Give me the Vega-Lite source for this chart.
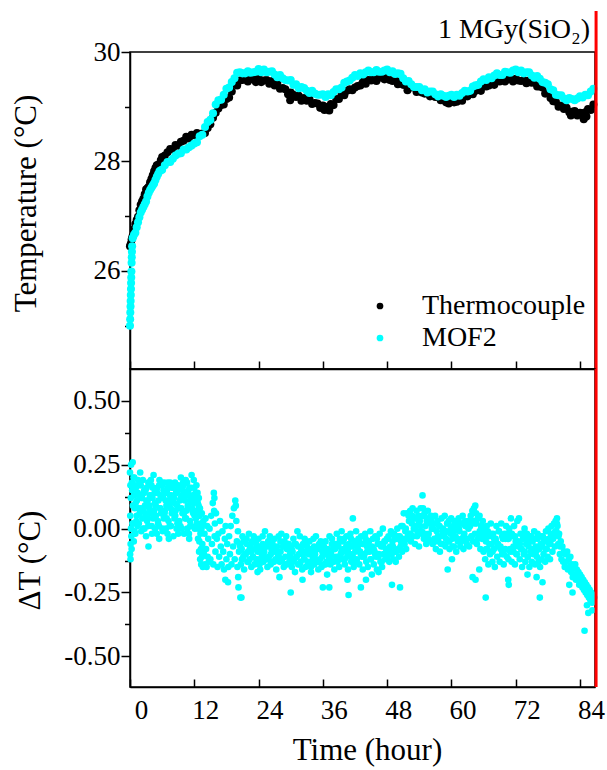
{
  "$schema": "https://vega.github.io/schema/vega-lite/v6.json",
  "padding": {"left": 9, "top": 8, "right": 5, "bottom": 5},
  "spacing": 0,
  "bounds": "flush",
  "config": {
    "font": "Liberation Serif",
    "view": {"stroke": "black", "strokeWidth": 1.5},
    "axis": {
      "grid": false, "domainColor": "black", "domainWidth": 1.5, "tickColor": "black", "tickWidth": 1.5,
      "labelColor": "black", "titleColor": "black", "labelFont": "Liberation Serif", "titleFont": "Liberation Serif",
      "labelFontSize": 27, "titleFontSize": 31, "titleFontWeight": "normal", "labelOverlap": false, "labelFlush": false
    }
  },
  "resolve": {"legend": {"color": "independent"}, "scale": {"color": "independent"}},
  "datasets": {
    "dose": [{"t": 87.0, "label": "1 MGy(SiO₂)"}],
    "temp": [
      {"t":0,"tc":26.45,"mof":25.0},{"t":0.03,"mof":25.12},{"t":0.06,"mof":25.24},{"t":0.1,"tc":26.48,"mof":25.35},{"t":0.12,"mof":25.45},{"t":0.15,"mof":25.56},{"t":0.18,"mof":25.67},{"t":0.2,"tc":26.5,"mof":25.78},{"t":0.23,"mof":25.88},{"t":0.26,"mof":25.99},{"t":0.3,"tc":26.57,"mof":26.15},{"t":0.33,"mof":26.25},{"t":0.36,"mof":26.35},{"t":0.4,"tc":26.6,"mof":26.45},{"t":0.5,"tc":26.64,"mof":26.6},
      {"t":0.75,"tc":26.76,"mof":26.66},{"t":1,"tc":26.86,"mof":26.7},{"t":1.25,"tc":26.93,"mof":26.8},{"t":1.5,"tc":26.99,"mof":26.89},{"t":1.75,"tc":27.11,"mof":26.98},{"t":2,"tc":27.21,"mof":27.07},{"t":2.25,"tc":27.27,"mof":27.12},{"t":2.5,"tc":27.32,"mof":27.17},{"t":2.75,"tc":27.4,"mof":27.22},{"t":3,"tc":27.49,"mof":27.27},{"t":3.25,"tc":27.51,"mof":27.36},{"t":3.5,"tc":27.54,"mof":27.43},{"t":3.75,"tc":27.62,"mof":27.48},{"t":4,"tc":27.68,"mof":27.52},{"t":4.25,"tc":27.75,"mof":27.56},{"t":4.5,"tc":27.82,"mof":27.6},{"t":4.75,"tc":27.88,"mof":27.66},{"t":5,"tc":27.93,"mof":27.72},{"t":5.25,"tc":27.94,"mof":27.77},{"t":5.5,"tc":27.95,"mof":27.82},{"t":5.75,"tc":28.02,"mof":27.84},
      {"t":6,"tc":28.08,"mof":27.85},{"t":6.5,"tc":28.11,"mof":27.93},{"t":7,"tc":28.17,"mof":27.99},{"t":7.5,"tc":28.23,"mof":27.99},{"t":8,"tc":28.22,"mof":28.05},{"t":8.5,"tc":28.3,"mof":28.11},{"t":9,"tc":28.29,"mof":28.14},{"t":9.5,"tc":28.36,"mof":28.15},{"t":10,"tc":28.38,"mof":28.22},{"t":10.5,"tc":28.45,"mof":28.22},{"t":11,"tc":28.42,"mof":28.26},{"t":11.5,"tc":28.49,"mof":28.29},{"t":12,"tc":28.48,"mof":28.33},{"t":12.5,"tc":28.52,"mof":28.35},
      {"t":13,"tc":28.49,"mof":28.46},{"t":13.5,"tc":28.51,"mof":28.49},{"t":14,"tc":28.52,"mof":28.63},{"t":14.5,"tc":28.61,"mof":28.72},{"t":15,"tc":28.68,"mof":28.76},{"t":15.5,"tc":28.8,"mof":28.88},{"t":16,"tc":28.89,"mof":29.04},{"t":16.5,"tc":28.97,"mof":29.12},{"t":17,"tc":29.03,"mof":29.13},{"t":17.5,"tc":29.04,"mof":29.22},{"t":18,"tc":29.14,"mof":29.33},{"t":18.5,"tc":29.17,"mof":29.35},{"t":19,"tc":29.28,"mof":29.45},{"t":19.5,"tc":29.41,"mof":29.52},{"t":20,"tc":29.39,"mof":29.62},{"t":20.5,"tc":29.48,"mof":29.63},{"t":21,"tc":29.49,"mof":29.61},{"t":21.5,"tc":29.55,"mof":29.61},{"t":22,"tc":29.46,"mof":29.65},{"t":22.5,"tc":29.51,"mof":29.62},{"t":23,"tc":29.5,"mof":29.63},{"t":23.5,"tc":29.45,"mof":29.64},{"t":24,"tc":29.53,"mof":29.69},{"t":24.5,"tc":29.45,"mof":29.63},{"t":25,"tc":29.48,"mof":29.68},{"t":25.5,"tc":29.49,"mof":29.63},{"t":26,"tc":29.42,"mof":29.64},{"t":26.5,"tc":29.47,"mof":29.65},{"t":27,"tc":29.39,"mof":29.59},{"t":27.5,"tc":29.44,"mof":29.54},{"t":28,"tc":29.33,"mof":29.58},{"t":28.5,"tc":29.34,"mof":29.52},{"t":29,"tc":29.32,"mof":29.49},{"t":29.5,"tc":29.23,"mof":29.48},{"t":30,"tc":29.26,"mof":29.49},{"t":30.5,"tc":29.22,"mof":29.4},{"t":31,"tc":29.18,"mof":29.41},{"t":31.5,"tc":29.2,"mof":29.34},{"t":32,"tc":29.11,"mof":29.36},{"t":32.5,"tc":29.16,"mof":29.34},{"t":33,"tc":29.11,"mof":29.29},{"t":33.5,"tc":29.14,"mof":29.25},{"t":34,"tc":29.05,"mof":29.29},{"t":34.5,"tc":29.07,"mof":29.24},{"t":35,"tc":29.06,"mof":29.22},{"t":35.5,"tc":28.98,"mof":29.22},{"t":36,"tc":29.02,"mof":29.23},{"t":36.5,"tc":29.0,"mof":29.18},{"t":37,"tc":28.98,"mof":29.23},{"t":37.5,"tc":29.05,"mof":29.21},{"t":38,"tc":29.03,"mof":29.27},{"t":38.5,"tc":29.14,"mof":29.32},{"t":39,"tc":29.14,"mof":29.32},{"t":39.5,"tc":29.23,"mof":29.35},{"t":40,"tc":29.21,"mof":29.44},{"t":40.5,"tc":29.29,"mof":29.46},{"t":41,"tc":29.32,"mof":29.48},{"t":41.5,"tc":29.3,"mof":29.53},{"t":42,"tc":29.35,"mof":29.58},{"t":42.5,"tc":29.38,"mof":29.56},{"t":43,"tc":29.39,"mof":29.61},{"t":43.5,"tc":29.46,"mof":29.59},{"t":44,"tc":29.42,"mof":29.63},{"t":44.5,"tc":29.49,"mof":29.66},{"t":45,"tc":29.48,"mof":29.63},{"t":45.5,"tc":29.54,"mof":29.63},{"t":46,"tc":29.47,"mof":29.67},{"t":46.5,"tc":29.53,"mof":29.64},{"t":47,"tc":29.54,"mof":29.64},{"t":47.5,"tc":29.5,"mof":29.66},{"t":48,"tc":29.53,"mof":29.68},{"t":48.5,"tc":29.49,"mof":29.63},{"t":49,"tc":29.47,"mof":29.65},{"t":49.5,"tc":29.49,"mof":29.6},{"t":50,"tc":29.41,"mof":29.61},{"t":50.5,"tc":29.46,"mof":29.6},{"t":51,"tc":29.4,"mof":29.52},{"t":51.5,"tc":29.43,"mof":29.46},{"t":52,"tc":29.34,"mof":29.47},{"t":52.5,"tc":29.36,"mof":29.41},{"t":53,"tc":29.35,"mof":29.36},{"t":53.5,"tc":29.27,"mof":29.36},{"t":54,"tc":29.31,"mof":29.36},{"t":54.5,"tc":29.26,"mof":29.3},{"t":55,"tc":29.24,"mof":29.32},{"t":55.5,"tc":29.26,"mof":29.26},{"t":56,"tc":29.19,"mof":29.28},{"t":56.5,"tc":29.23,"mof":29.28},{"t":57,"tc":29.18,"mof":29.23},{"t":57.5,"tc":29.2,"mof":29.19},{"t":58,"tc":29.12,"mof":29.23},{"t":58.5,"tc":29.14,"mof":29.2},{"t":59,"tc":29.15,"mof":29.18},{"t":59.5,"tc":29.06,"mof":29.2},{"t":60,"tc":29.13,"mof":29.22},{"t":60.5,"tc":29.08,"mof":29.18},{"t":61,"tc":29.09,"mof":29.22},{"t":61.5,"tc":29.14,"mof":29.2},{"t":62,"tc":29.11,"mof":29.25},{"t":62.5,"tc":29.19,"mof":29.29},{"t":63,"tc":29.19,"mof":29.28},{"t":63.5,"tc":29.26,"mof":29.29},{"t":64,"tc":29.23,"mof":29.37},{"t":64.5,"tc":29.29,"mof":29.39},{"t":65,"tc":29.34,"mof":29.4},{"t":65.5,"tc":29.29,"mof":29.46},{"t":66,"tc":29.38,"mof":29.5},{"t":66.5,"tc":29.37,"mof":29.49},{"t":67,"tc":29.39,"mof":29.54},{"t":67.5,"tc":29.44,"mof":29.52},{"t":68,"tc":29.4,"mof":29.57},{"t":68.5,"tc":29.48,"mof":29.61},{"t":69,"tc":29.46,"mof":29.58},{"t":69.5,"tc":29.51,"mof":29.58},{"t":70,"tc":29.46,"mof":29.64},{"t":70.5,"tc":29.5,"mof":29.63},{"t":71,"tc":29.52,"mof":29.62},{"t":71.5,"tc":29.46,"mof":29.66},{"t":72,"tc":29.51,"mof":29.68},{"t":72.5,"tc":29.48,"mof":29.63},{"t":73,"tc":29.47,"mof":29.66},{"t":73.5,"tc":29.49,"mof":29.61},{"t":74,"tc":29.43,"mof":29.63},{"t":74.5,"tc":29.48,"mof":29.63},{"t":75,"tc":29.44,"mof":29.57},{"t":75.5,"tc":29.46,"mof":29.53},{"t":76,"tc":29.37,"mof":29.56},{"t":76.5,"tc":29.37,"mof":29.51},{"t":77,"tc":29.35,"mof":29.45},{"t":77.5,"tc":29.24,"mof":29.44},{"t":78,"tc":29.25,"mof":29.41},{"t":78.5,"tc":29.16,"mof":29.32},{"t":79,"tc":29.1,"mof":29.3},{"t":79.5,"tc":29.09,"mof":29.22},{"t":80,"tc":29.0,"mof":29.21},{"t":80.5,"tc":29.02,"mof":29.21},{"t":81,"tc":28.96,"mof":29.15},{"t":81.5,"tc":28.98,"mof":29.12},{"t":82,"tc":28.9,"mof":29.16},{"t":82.5,"tc":28.91,"mof":29.14},{"t":83,"tc":28.92,"mof":29.12},{"t":83.5,"tc":28.84,"mof":29.15},{"t":84,"tc":28.89,"mof":29.19},{"t":84.5,"tc":28.88,"mof":29.17},{"t":85,"tc":28.9,"mof":29.22},{"t":85.5,"tc":28.96,"mof":29.21},{"t":86,"tc":28.94,"mof":29.28},{"t":86.5,"tc":29.04,"mof":29.33},
      {"t":29.9,"tc":29.12},{"t":36.3,"tc":28.94},{"t":37.2,"tc":28.93},{"t":51.8,"tc":29.3},{"t":59.0,"tc":29.08},{"t":82.3,"tc":28.84},{"t":84.7,"tc":28.77},{"t":85.2,"tc":28.82}
    ],
    "dt": [
      {"t":0,"d":0.22},{"t":0.02,"d":-0.1},{"t":0.05,"d":0.05},{"t":0.08,"d":0.17},{"t":0.1,"d":-0.12},{"t":0.12,"d":-0.06},{"t":0.15,"d":0.12},{"t":0.18,"d":0.0},{"t":0.2,"d":0.25},{"t":0.25,"d":-0.03},{"t":0.3,"d":-0.08},{"t":0.35,"d":0.18},{"t":0.4,"d":0.15},{"t":0.45,"d":0.02},{"t":0.5,"d":0.26},{"t":0.55,"d":0.09},{"t":0.6,"d":0.02},{"t":0.65,"d":0.2},{"t":0.7,"d":-0.05},{"t":0.75,"d":0.13},{"t":0.8,"d":0.2},{"t":0.85,"d":-0.01},{"t":0.9,"d":0.08},{"t":0.95,"d":0.17},
      {"t":1.0,"d":-0.02},{"t":1.1,"d":0.16},{"t":1.2,"d":0.03},{"t":1.3,"d":0.11},{"t":1.4,"d":0.01},{"t":1.5,"d":0.19},{"t":1.6,"d":0.08},{"t":1.7,"d":0.13},{"t":1.8,"d":0.06},{"t":1.9,"d":0.22},
      {"t":2.0,"d":0.17},{"t":2.1,"d":-0.01},{"t":2.2,"d":0.12},{"t":2.3,"d":0.04},{"t":2.4,"d":0.19},{"t":2.5,"d":0.07},{"t":2.6,"d":0.14},{"t":2.7,"d":0.0},{"t":2.8,"d":0.09},{"t":2.9,"d":0.15},
      {"t":3.0,"d":-0.03},{"t":3.1,"d":0.16},{"t":3.2,"d":0.03},{"t":3.3,"d":0.11},{"t":3.4,"d":0.01},{"t":3.45,"d":-0.07},{"t":3.5,"d":0.18},{"t":3.6,"d":0.08},{"t":3.7,"d":0.13},{"t":3.8,"d":0.06},{"t":3.9,"d":0.19},
      {"t":4.0,"d":0.17},{"t":4.1,"d":-0.02},{"t":4.2,"d":0.12},{"t":4.3,"d":0.04},{"t":4.4,"d":0.21},{"t":4.5,"d":0.07},{"t":4.6,"d":0.14},{"t":4.7,"d":0.0},{"t":4.8,"d":0.09},{"t":4.9,"d":0.15},
      {"t":5.0,"d":-0.02},{"t":5.1,"d":0.16},{"t":5.2,"d":0.03},{"t":5.3,"d":0.11},{"t":5.4,"d":0.01},{"t":5.45,"d":-0.04},{"t":5.5,"d":0.19},{"t":5.6,"d":0.08},{"t":5.7,"d":0.13},{"t":5.8,"d":0.06},{"t":5.9,"d":0.18},
      {"t":6.0,"d":0.17},{"t":6.1,"d":-0.01},{"t":6.2,"d":0.12},{"t":6.3,"d":0.04},{"t":6.4,"d":0.18},{"t":6.5,"d":0.07},{"t":6.6,"d":0.14},{"t":6.7,"d":0.0},{"t":6.8,"d":0.09},{"t":6.9,"d":0.15},
      {"t":7.0,"d":-0.02},{"t":7.1,"d":0.16},{"t":7.2,"d":0.03},{"t":7.25,"d":-0.04},{"t":7.3,"d":0.11},{"t":7.4,"d":0.01},{"t":7.5,"d":0.18},{"t":7.6,"d":0.08},{"t":7.7,"d":0.13},{"t":7.8,"d":0.06},{"t":7.9,"d":0.17},
      {"t":8.0,"d":0.16},{"t":8.1,"d":-0.03},{"t":8.2,"d":0.12},{"t":8.3,"d":0.04},{"t":8.4,"d":0.18},{"t":8.5,"d":0.07},{"t":8.6,"d":0.14},{"t":8.7,"d":0.0},{"t":8.8,"d":0.09},{"t":8.9,"d":0.15},
      {"t":9.0,"d":-0.02},{"t":9.1,"d":0.16},{"t":9.2,"d":0.03},{"t":9.3,"d":0.11},{"t":9.4,"d":0.01},{"t":9.5,"d":0.2},{"t":9.6,"d":0.08},{"t":9.7,"d":0.13},{"t":9.8,"d":0.06},{"t":9.9,"d":0.18},
      {"t":10.0,"d":0.17},{"t":10.1,"d":-0.02},{"t":10.2,"d":0.12},{"t":10.3,"d":0.04},{"t":10.4,"d":0.19},{"t":10.5,"d":0.07},{"t":10.6,"d":0.14},{"t":10.7,"d":0.0},{"t":10.8,"d":0.09},{"t":10.9,"d":0.15},
      {"t":11.0,"d":-0.02},{"t":11.05,"d":-0.04},{"t":11.1,"d":0.16},{"t":11.2,"d":0.03},{"t":11.3,"d":0.11},{"t":11.4,"d":0.01},{"t":11.5,"d":0.21},{"t":11.6,"d":0.08},{"t":11.7,"d":0.13},{"t":11.8,"d":0.06},{"t":11.9,"d":0.19},
      {"t":12.0,"d":0.16},{"t":12.1,"d":0.0},{"t":12.2,"d":0.12},{"t":12.3,"d":0.04},{"t":12.4,"d":0.17},{"t":12.5,"d":0.07},
      {"t":1.05,"d":0.1},{"t":1.25,"d":0.05},{"t":1.45,"d":0.14},{"t":1.65,"d":0.02},{"t":1.85,"d":0.17},{"t":2.05,"d":0.08},{"t":2.25,"d":0.12},{"t":2.45,"d":0.0},{"t":2.65,"d":0.15},{"t":2.85,"d":0.06},{"t":3.05,"d":0.11},{"t":3.25,"d":0.04},{"t":3.45,"d":0.18},{"t":3.65,"d":0.09},{"t":3.85,"d":0.13},{"t":4.05,"d":0.01},{"t":4.25,"d":0.16},{"t":4.45,"d":0.07},
      {"t":4.65,"d":0.1},{"t":4.85,"d":0.05},{"t":5.05,"d":0.14},{"t":5.25,"d":0.02},{"t":5.45,"d":0.17},{"t":5.65,"d":0.08},{"t":5.85,"d":0.12},{"t":6.05,"d":0.0},{"t":6.25,"d":0.15},{"t":6.45,"d":0.06},{"t":6.65,"d":0.11},{"t":6.85,"d":0.04},{"t":7.05,"d":0.18},{"t":7.25,"d":0.09},{"t":7.45,"d":0.13},{"t":7.65,"d":0.01},{"t":7.85,"d":0.16},{"t":8.05,"d":0.07},
      {"t":8.25,"d":0.1},{"t":8.45,"d":0.05},{"t":8.65,"d":0.14},{"t":8.85,"d":0.02},{"t":9.05,"d":0.17},{"t":9.25,"d":0.08},{"t":9.45,"d":0.12},{"t":9.65,"d":0.0},{"t":9.85,"d":0.15},{"t":10.05,"d":0.06},{"t":10.25,"d":0.11},{"t":10.45,"d":0.04},{"t":10.65,"d":0.18},{"t":10.85,"d":0.09},{"t":11.05,"d":0.13},{"t":11.25,"d":0.01},{"t":11.45,"d":0.16},{"t":11.65,"d":0.07},
      {"t":11.85,"d":0.1},{"t":12.05,"d":0.05},{"t":12.25,"d":0.14},{"t":12.45,"d":0.02},
      {"t":12.6,"d":0.14},{"t":12.65,"d":0.1},{"t":12.7,"d":-0.04},{"t":12.75,"d":0.0},{"t":12.8,"d":0.09},{"t":12.85,"d":0.12},{"t":12.9,"d":-0.09},{"t":12.95,"d":-0.05},{"t":13.0,"d":0.05},{"t":13.05,"d":0.08},{"t":13.1,"d":-0.12},{"t":13.15,"d":-0.02},{"t":13.2,"d":0.02},{"t":13.25,"d":-0.08},{"t":13.3,"d":-0.14},{"t":13.35,"d":0.0},{"t":13.4,"d":0.06},{"t":13.45,"d":-0.11},{"t":13.5,"d":-0.06},{"t":13.55,"d":0.02},{"t":13.6,"d":-0.15},{"t":13.7,"d":0.03},{"t":13.8,"d":-0.1},{"t":13.9,"d":-0.02},{"t":14.0,"d":-0.14},{"t":14.1,"d":0.04},{"t":14.2,"d":-0.08},{"t":14.3,"d":-0.15},{"t":14.4,"d":0.01},{"t":14.5,"d":-0.11},{"t":14.6,"d":-0.04},{"t":14.7,"d":-0.13},
      {"t":14.85,"d":0.0},{"t":15.0,"d":-0.12},{"t":15.15,"d":0.05},{"t":15.3,"d":-0.06},{"t":15.45,"d":0.1},{"t":15.55,"d":-0.14},{"t":15.65,"d":0.14},{"t":15.7,"d":0.07},{"t":15.75,"d":0.12},{"t":15.8,"d":-0.03},{"t":15.85,"d":0.02},{"t":15.95,"d":-0.09},{"t":16.05,"d":0.06},{"t":16.2,"d":-0.04},{"t":16.35,"d":-0.15},
      {"t":16.5,"d":-0.02},{"t":16.65,"d":-0.11},{"t":16.8,"d":0.03},{"t":16.95,"d":-0.07},{"t":17.1,"d":-0.14},{"t":17.25,"d":-0.01},{"t":17.4,"d":-0.09},{"t":17.55,"d":-0.16},{"t":17.7,"d":-0.04},{"t":17.8,"d":-0.2},{"t":17.85,"d":0.01},{"t":18.0,"d":-0.12},{"t":18.15,"d":-0.06},{"t":18.3,"d":-0.21},{"t":18.35,"d":-0.15},
      {"t":18.5,"d":-0.03},{"t":18.65,"d":-0.1},{"t":18.8,"d":0.01},{"t":18.95,"d":-0.14},{"t":19.1,"d":0.05},{"t":19.25,"d":-0.07},{"t":19.4,"d":0.08},{"t":19.55,"d":-0.12},{"t":19.65,"d":0.11},{"t":19.75,"d":0.09},{"t":19.85,"d":0.03},{"t":19.95,"d":-0.05},{"t":20.05,"d":-0.15},{"t":20.15,"d":-0.01},{"t":20.2,"d":-0.19},{"t":20.25,"d":-0.23},{"t":20.35,"d":-0.09},{"t":20.6,"d":-0.27},{"t":20.8,"d":-0.27},
      {"t":20.45,"d":-0.06},{"t":20.7,"d":-0.14},{"t":20.85,"d":-0.08},{"t":21.0,"d":-0.03},{"t":21.15,"d":-0.11},{"t":21.3,"d":-0.16},{"t":21.45,"d":-0.05},{"t":21.6,"d":-0.1},{"t":21.75,"d":-0.04},{"t":21.9,"d":-0.13},{"t":22.05,"d":-0.09},{"t":22.2,"d":-0.02},{"t":22.35,"d":-0.12},{"t":22.5,"d":-0.07},{"t":22.65,"d":-0.15},{"t":22.8,"d":-0.05},{"t":22.95,"d":-0.11},{"t":23.1,"d":-0.03},{"t":23.25,"d":-0.14},{"t":23.4,"d":-0.08},{"t":23.55,"d":-0.06},{"t":23.7,"d":-0.13},{"t":23.8,"d":-0.17},{"t":23.85,"d":-0.09},{"t":24.0,"d":-0.04},{"t":24.15,"d":-0.12},{"t":24.3,"d":-0.16},{"t":24.45,"d":-0.07},{"t":24.6,"d":-0.1},{"t":24.75,"d":-0.03},{"t":24.9,"d":-0.13},{"t":25.05,"d":-0.09},{"t":25.2,"d":-0.01},{"t":25.35,"d":-0.12},{"t":25.5,"d":-0.07},{"t":25.65,"d":-0.15},{"t":25.8,"d":-0.05},{"t":25.95,"d":-0.11},{"t":26.1,"d":-0.03},{"t":26.25,"d":-0.14},{"t":26.4,"d":-0.08},{"t":26.55,"d":-0.06},{"t":26.7,"d":-0.13},{"t":26.85,"d":-0.09},{"t":27.0,"d":-0.04},{"t":27.15,"d":-0.12},{"t":27.3,"d":-0.16},{"t":27.45,"d":-0.07},{"t":27.6,"d":-0.1},{"t":27.75,"d":-0.03},{"t":27.9,"d":-0.19},{"t":27.95,"d":-0.13},{"t":28.1,"d":-0.09},{"t":28.25,"d":-0.02},{"t":28.4,"d":-0.12},{"t":28.55,"d":-0.07},{"t":28.7,"d":-0.15},{"t":28.85,"d":-0.05},{"t":29.0,"d":-0.11},{"t":29.15,"d":-0.03},{"t":29.3,"d":-0.14},{"t":29.45,"d":-0.08},{"t":29.6,"d":-0.06},{"t":29.75,"d":-0.13},{"t":29.9,"d":-0.1},{"t":30.0,"d":-0.25},
      {"t":30.05,"d":-0.07},{"t":30.2,"d":-0.15},{"t":30.35,"d":-0.09},{"t":30.5,"d":-0.04},{"t":30.65,"d":-0.12},{"t":30.8,"d":-0.17},{"t":30.95,"d":-0.06},{"t":31.1,"d":-0.11},{"t":31.25,"d":-0.01},{"t":31.4,"d":-0.14},{"t":31.55,"d":-0.1},{"t":31.7,"d":-0.03},{"t":31.85,"d":-0.13},{"t":32.0,"d":-0.08},{"t":32.15,"d":-0.16},{"t":32.2,"d":-0.2},{"t":32.3,"d":-0.06},{"t":32.45,"d":-0.12},{"t":32.6,"d":-0.04},{"t":32.75,"d":-0.15},{"t":32.9,"d":-0.09},{"t":33.05,"d":-0.07},{"t":33.2,"d":-0.14},{"t":33.35,"d":-0.1},{"t":33.5,"d":-0.05},{"t":33.65,"d":-0.13},{"t":33.8,"d":-0.17},{"t":33.95,"d":-0.08},{"t":34.1,"d":-0.11},{"t":34.25,"d":-0.04},{"t":34.4,"d":-0.14},{"t":34.55,"d":-0.1},{"t":34.7,"d":-0.03},{"t":34.85,"d":-0.13},{"t":35.0,"d":-0.08},{"t":35.15,"d":-0.16},{"t":35.3,"d":-0.06},{"t":35.45,"d":-0.12},{"t":35.6,"d":-0.05},{"t":35.75,"d":-0.15},{"t":35.9,"d":-0.09},{"t":36.0,"d":-0.23},{"t":36.05,"d":-0.07},{"t":36.2,"d":-0.14},{"t":36.35,"d":-0.1},{"t":36.5,"d":-0.05},{"t":36.65,"d":-0.13},{"t":36.8,"d":-0.18},{"t":36.95,"d":-0.08},{"t":37.1,"d":-0.11},{"t":37.2,"d":-0.23},{"t":37.25,"d":-0.03},{"t":37.4,"d":-0.14},{"t":37.55,"d":-0.1},{"t":37.7,"d":-0.04},{"t":37.85,"d":-0.13},{"t":38.0,"d":-0.08},{"t":38.15,"d":-0.16},{"t":38.3,"d":-0.06},
      {"t":38.45,"d":-0.11},{"t":38.6,"d":-0.02},{"t":38.75,"d":-0.13},{"t":38.9,"d":-0.07},{"t":39.05,"d":-0.15},{"t":39.2,"d":-0.05},{"t":39.35,"d":-0.1},{"t":39.5,"d":-0.01},{"t":39.65,"d":-0.12},{"t":39.8,"d":-0.08},{"t":39.95,"d":-0.04},{"t":40.1,"d":-0.14},{"t":40.25,"d":-0.09},{"t":40.4,"d":-0.03},{"t":40.55,"d":-0.11},{"t":40.6,"d":-0.2},{"t":40.7,"d":-0.16},{"t":40.8,"d":-0.26},{"t":40.85,"d":-0.06},{"t":41.0,"d":-0.1},{"t":41.15,"d":-0.02},{"t":41.3,"d":-0.13},{"t":41.45,"d":-0.07},{"t":41.6,"d":0.04},{"t":41.75,"d":-0.15},{"t":41.9,"d":-0.05},{"t":42.05,"d":-0.09},{"t":42.2,"d":-0.01},{"t":42.35,"d":-0.12},{"t":42.5,"d":-0.08},{"t":42.65,"d":-0.04},{"t":42.8,"d":-0.14},{"t":42.95,"d":-0.09},{"t":43.1,"d":-0.23},{"t":43.15,"d":-0.03},{"t":43.3,"d":-0.11},{"t":43.45,"d":-0.16},{"t":43.6,"d":-0.06},{"t":43.75,"d":-0.1},{"t":43.9,"d":-0.02},{"t":44.05,"d":-0.2},{"t":44.1,"d":-0.13},{"t":44.25,"d":-0.07},{"t":44.4,"d":-0.15},{"t":44.55,"d":-0.05},{"t":44.7,"d":-0.09},{"t":44.85,"d":-0.01},{"t":45.0,"d":-0.12},{"t":45.15,"d":-0.18},{"t":45.2,"d":-0.08},{"t":45.35,"d":-0.04},{"t":45.5,"d":-0.14},{"t":45.65,"d":-0.09},{"t":45.8,"d":-0.03},{"t":45.95,"d":-0.11},{"t":46.1,"d":-0.16},{"t":46.25,"d":-0.06},{"t":46.4,"d":-0.17},{"t":46.45,"d":-0.1},{"t":46.6,"d":-0.02},{"t":46.75,"d":-0.13},{"t":46.9,"d":-0.07},{"t":47.05,"d":-0.15},{"t":47.2,"d":0.0},{"t":47.35,"d":-0.1},{"t":47.5,"d":-0.05},{"t":47.65,"d":-0.12},{"t":47.8,"d":-0.08},{"t":47.95,"d":-0.04},
      {"t":48.1,"d":-0.11},{"t":48.25,"d":-0.03},{"t":48.4,"d":-0.13},{"t":48.55,"d":-0.07},{"t":48.7,"d":-0.01},{"t":48.85,"d":-0.1},{"t":48.9,"d":-0.22},{"t":49.0,"d":-0.05},{"t":49.15,"d":-0.12},{"t":49.3,"d":-0.02},{"t":49.45,"d":-0.09},{"t":49.6,"d":-0.13},{"t":49.75,"d":-0.04},{"t":49.9,"d":0.0},{"t":50.05,"d":-0.08},{"t":50.2,"d":-0.11},{"t":50.35,"d":-0.03},{"t":50.4,"d":-0.23},{"t":50.5,"d":-0.07},{"t":50.65,"d":0.01},{"t":50.8,"d":-0.09},{"t":50.95,"d":-0.04},{"t":51.1,"d":0.06},{"t":51.25,"d":-0.06},{"t":51.4,"d":-0.01},{"t":51.55,"d":-0.08},{"t":51.7,"d":0.06},{"t":51.85,"d":-0.03},
      {"t":52.0,"d":0.05},{"t":52.15,"d":-0.02},{"t":52.3,"d":0.07},{"t":52.45,"d":-0.05},{"t":52.6,"d":0.02},{"t":52.75,"d":0.08},{"t":52.9,"d":-0.03},{"t":53.05,"d":0.04},{"t":53.2,"d":-0.06},{"t":53.35,"d":0.01},{"t":53.5,"d":0.07},{"t":53.65,"d":-0.01},{"t":53.8,"d":0.05},{"t":53.95,"d":-0.07},{"t":54.1,"d":0.03},{"t":54.25,"d":0.08},{"t":54.4,"d":-0.02},{"t":54.55,"d":0.05},{"t":54.6,"d":0.13},{"t":54.7,"d":0.08},{"t":54.85,"d":-0.04},{"t":55.0,"d":0.06},{"t":55.15,"d":0.01},{"t":55.3,"d":-0.06},{"t":55.45,"d":0.04},{"t":55.6,"d":0.07},{"t":55.75,"d":-0.02},{"t":55.9,"d":0.03},{"t":56.05,"d":-0.05},{"t":56.2,"d":0.05},{"t":56.35,"d":0.0},
      {"t":56.5,"d":-0.06},{"t":56.65,"d":0.02},{"t":56.8,"d":-0.04},{"t":56.95,"d":0.05},{"t":57.1,"d":-0.08},{"t":57.25,"d":-0.01},{"t":57.4,"d":0.03},{"t":57.55,"d":-0.05},{"t":57.7,"d":0.01},{"t":57.85,"d":-0.09},{"t":58.0,"d":-0.03},{"t":58.15,"d":0.04},{"t":58.3,"d":-0.06},{"t":58.45,"d":0.0},{"t":58.6,"d":-0.02},{"t":58.75,"d":0.05},{"t":58.9,"d":-0.07},{"t":59.05,"d":-0.01},{"t":59.2,"d":0.02},{"t":59.3,"d":-0.16},{"t":59.35,"d":-0.05},{"t":59.5,"d":0.03},{"t":59.65,"d":-0.08},{"t":59.8,"d":-0.02},{"t":59.95,"d":0.04},{"t":60.1,"d":-0.12},{"t":60.15,"d":-0.04},{"t":60.3,"d":0.01},{"t":60.45,"d":-0.07},{"t":60.6,"d":0.03},{"t":60.75,"d":-0.03},{"t":60.9,"d":-0.09},{"t":61.05,"d":0.02},{"t":61.2,"d":-0.05},{"t":61.35,"d":0.04},{"t":61.5,"d":-0.01},{"t":61.65,"d":-0.07},{"t":61.8,"d":0.02},{"t":61.95,"d":-0.04},{"t":62.1,"d":0.05},{"t":62.25,"d":-0.08},{"t":62.4,"d":-0.02},{"t":62.55,"d":0.03},{"t":62.7,"d":-0.05},{"t":62.85,"d":0.01},
      {"t":63.0,"d":-0.04},{"t":63.15,"d":0.03},{"t":63.3,"d":-0.07},{"t":63.45,"d":0.01},{"t":63.6,"d":0.05},{"t":63.75,"d":-0.03},{"t":63.9,"d":0.07},{"t":63.95,"d":-0.19},{"t":64.05,"d":-0.05},{"t":64.2,"d":0.08},{"t":64.35,"d":0.02},{"t":64.45,"d":0.09},{"t":64.5,"d":-0.2},{"t":64.6,"d":0.06},{"t":64.75,"d":-0.06},{"t":64.9,"d":0.04},{"t":65.05,"d":-0.02},{"t":65.2,"d":-0.16},{"t":65.25,"d":0.05},{"t":65.4,"d":-0.08},{"t":65.55,"d":0.0},{"t":65.7,"d":-0.04},{"t":65.85,"d":0.03},
      {"t":66.0,"d":-0.09},{"t":66.15,"d":-0.01},{"t":66.3,"d":-0.12},{"t":66.4,"d":-0.27},{"t":66.45,"d":-0.05},{"t":66.6,"d":0.01},{"t":66.75,"d":-0.08},{"t":66.9,"d":-0.14},{"t":67.05,"d":-0.03},{"t":67.2,"d":-0.1},{"t":67.35,"d":0.02},{"t":67.5,"d":-0.06},{"t":67.65,"d":-0.13},{"t":67.8,"d":-0.02},{"t":67.95,"d":-0.08},{"t":68.1,"d":-0.15},{"t":68.25,"d":-0.04},{"t":68.4,"d":0.01},{"t":68.55,"d":-0.11},{"t":68.7,"d":-0.06},{"t":68.85,"d":-0.01},{"t":69.0,"d":-0.13},{"t":69.15,"d":-0.07},{"t":69.3,"d":0.02},{"t":69.45,"d":-0.1},{"t":69.6,"d":-0.04},{"t":69.75,"d":-0.14},{"t":69.9,"d":-0.02},{"t":70.05,"d":-0.08},{"t":70.2,"d":0.01},{"t":70.35,"d":-0.11},
      {"t":70.5,"d":-0.04},{"t":70.6,"d":-0.2},{"t":70.65,"d":-0.12},{"t":70.7,"d":-0.22},{"t":70.8,"d":0.0},{"t":70.95,"d":-0.08},{"t":71.1,"d":0.04},{"t":71.25,"d":-0.13},{"t":71.4,"d":-0.03},{"t":71.55,"d":-0.09},{"t":71.7,"d":0.01},{"t":71.85,"d":-0.14},{"t":72.0,"d":-0.05},{"t":72.15,"d":-0.1},{"t":72.3,"d":0.03},{"t":72.45,"d":-0.07},{"t":72.6,"d":0.04},{"t":72.75,"d":-0.12},{"t":72.9,"d":-0.02},{"t":73.05,"d":-0.08},{"t":73.2,"d":-0.15},{"t":73.35,"d":-0.04},{"t":73.5,"d":-0.1},{"t":73.65,"d":0.0},{"t":73.8,"d":-0.13},{"t":73.95,"d":-0.06},{"t":74.1,"d":-0.02},{"t":74.2,"d":-0.18},{"t":74.25,"d":-0.11},{"t":74.4,"d":-0.07},{"t":74.55,"d":-0.15},{"t":74.7,"d":-0.03},{"t":74.85,"d":-0.09},{"t":75.0,"d":-0.13},{"t":75.15,"d":-0.05},{"t":75.3,"d":-0.1},{"t":75.45,"d":-0.01},{"t":75.6,"d":-0.14},{"t":75.75,"d":-0.07},{"t":75.9,"d":-0.19},{"t":75.95,"d":-0.11},{"t":76.1,"d":-0.04},{"t":76.25,"d":-0.13},{"t":76.4,"d":-0.08},{"t":76.5,"d":-0.27},{"t":76.55,"d":-0.15},
      {"t":76.7,"d":-0.06},{"t":76.85,"d":-0.12},{"t":77.0,"d":-0.21},{"t":77.05,"d":-0.03},{"t":77.2,"d":-0.1},{"t":77.35,"d":-0.05},{"t":77.5,"d":-0.13},{"t":77.65,"d":-0.01},{"t":77.8,"d":-0.08},{"t":77.95,"d":-0.11},{"t":78.1,"d":0.0},{"t":78.25,"d":-0.06},{"t":78.4,"d":-0.12},{"t":78.55,"d":-0.02},{"t":78.7,"d":0.01},{"t":78.85,"d":-0.09},{"t":79.0,"d":-0.04},{"t":79.15,"d":0.02},{"t":79.3,"d":-0.07},{"t":79.45,"d":0.03},{"t":79.6,"d":-0.01},{"t":79.7,"d":0.04},{"t":79.8,"d":0.01},{"t":79.95,"d":-0.06},{"t":80.1,"d":-0.02},{"t":80.25,"d":-0.1},{"t":80.4,"d":-0.05},
      {"t":80.55,"d":-0.12},{"t":80.7,"d":-0.07},{"t":80.85,"d":-0.13},{"t":81.0,"d":-0.09},{"t":81.15,"d":-0.15},{"t":81.3,"d":-0.1},{"t":81.45,"d":-0.13},{"t":81.6,"d":-0.09},{"t":81.75,"d":-0.16},{"t":81.9,"d":-0.12},{"t":82.0,"d":-0.22},{"t":82.05,"d":-0.15},{"t":82.2,"d":-0.11},{"t":82.35,"d":-0.17},{"t":82.5,"d":-0.14},{"t":82.6,"d":-0.25},{"t":82.65,"d":-0.19},{"t":82.8,"d":-0.15},{"t":82.95,"d":-0.18},{"t":83.1,"d":-0.14},{"t":83.25,"d":-0.2},{"t":83.4,"d":-0.16},{"t":83.55,"d":-0.19},{"t":83.7,"d":-0.17},{"t":83.85,"d":-0.22},{"t":84.0,"d":-0.18},{"t":84.15,"d":-0.21},{"t":84.3,"d":-0.19},{"t":84.45,"d":-0.23},{"t":84.6,"d":-0.2},{"t":84.75,"d":-0.24},{"t":84.85,"d":-0.4},{"t":84.9,"d":-0.21},{"t":85.05,"d":-0.25},{"t":85.2,"d":-0.22},{"t":85.3,"d":-0.3},{"t":85.35,"d":-0.26},{"t":85.5,"d":-0.23},{"t":85.55,"d":-0.33},{"t":85.65,"d":-0.27},{"t":85.8,"d":-0.24},{"t":85.95,"d":-0.28},{"t":86.1,"d":-0.25},{"t":86.25,"d":-0.29},{"t":86.3,"d":-0.32},{"t":86.4,"d":-0.26},{"t":86.55,"d":-0.28},{"t":86.65,"d":-0.27},
      {"t":20.58,"d":-0.07},{"t":20.88,"d":-0.12},{"t":21.18,"d":-0.05},{"t":21.48,"d":-0.1},{"t":21.78,"d":-0.06},{"t":22.08,"d":-0.13},{"t":22.38,"d":-0.08},{"t":22.68,"d":-0.09},{"t":22.98,"d":-0.11},{"t":23.28,"d":-0.05},{"t":23.58,"d":-0.12},{"t":23.88,"d":-0.07},{"t":24.18,"d":-0.14},{"t":24.48,"d":-0.08},{"t":24.78,"d":-0.06},{"t":25.08,"d":-0.11},
      {"t":25.38,"d":-0.07},{"t":25.68,"d":-0.12},{"t":25.98,"d":-0.05},{"t":26.28,"d":-0.1},{"t":26.58,"d":-0.06},{"t":26.88,"d":-0.13},{"t":27.18,"d":-0.08},{"t":27.48,"d":-0.09},{"t":27.78,"d":-0.11},{"t":28.08,"d":-0.05},{"t":28.38,"d":-0.12},{"t":28.68,"d":-0.07},{"t":28.98,"d":-0.14},{"t":29.28,"d":-0.08},{"t":29.58,"d":-0.06},{"t":29.88,"d":-0.11},
      {"t":30.18,"d":-0.08},{"t":30.48,"d":-0.13},{"t":30.78,"d":-0.06},{"t":31.08,"d":-0.11},{"t":31.38,"d":-0.07},{"t":31.68,"d":-0.14},{"t":31.98,"d":-0.09},{"t":32.28,"d":-0.1},{"t":32.58,"d":-0.12},{"t":32.88,"d":-0.06},{"t":33.18,"d":-0.13},{"t":33.48,"d":-0.08},{"t":33.78,"d":-0.15},{"t":34.08,"d":-0.09},{"t":34.38,"d":-0.07},{"t":34.68,"d":-0.12},{"t":34.98,"d":-0.08},{"t":35.28,"d":-0.13},{"t":35.58,"d":-0.06},{"t":35.88,"d":-0.11},{"t":36.18,"d":-0.07},{"t":36.48,"d":-0.14},{"t":36.78,"d":-0.09},{"t":37.08,"d":-0.1},{"t":37.38,"d":-0.12},{"t":37.68,"d":-0.06},{"t":37.98,"d":-0.13},{"t":38.28,"d":-0.08},
      {"t":38.58,"d":-0.06},{"t":38.88,"d":-0.11},{"t":39.18,"d":-0.04},{"t":39.48,"d":-0.09},{"t":39.78,"d":-0.05},{"t":40.08,"d":-0.12},{"t":40.38,"d":-0.07},{"t":40.68,"d":-0.08},{"t":40.98,"d":-0.1},{"t":41.28,"d":-0.04},{"t":41.58,"d":-0.11},{"t":41.88,"d":-0.06},{"t":42.18,"d":-0.13},{"t":42.48,"d":-0.07},{"t":42.78,"d":-0.05},{"t":43.08,"d":-0.1},{"t":43.38,"d":-0.06},{"t":43.68,"d":-0.11},{"t":43.98,"d":-0.04},{"t":44.28,"d":-0.09},{"t":44.58,"d":-0.05},{"t":44.88,"d":-0.12},{"t":45.18,"d":-0.07},{"t":45.48,"d":-0.08},{"t":45.78,"d":-0.1},{"t":46.08,"d":-0.04},{"t":46.38,"d":-0.11},{"t":46.68,"d":-0.06},{"t":46.98,"d":-0.13},{"t":47.28,"d":-0.07},{"t":47.58,"d":-0.05},{"t":47.88,"d":-0.1},
      {"t":48.18,"d":-0.04},{"t":48.48,"d":-0.09},{"t":48.78,"d":-0.02},{"t":49.08,"d":-0.07},{"t":49.38,"d":-0.03},{"t":49.68,"d":-0.09},{"t":49.98,"d":-0.03},{"t":50.28,"d":-0.04},{"t":50.58,"d":-0.05},{"t":50.88,"d":0.01},{"t":51.18,"d":-0.05},{"t":51.48,"d":0.0},{"t":51.78,"d":-0.04},
      {"t":52.08,"d":0.03},{"t":52.38,"d":-0.02},{"t":52.68,"d":0.05},{"t":52.98,"d":0.0},{"t":53.28,"d":0.04},{"t":53.58,"d":-0.03},{"t":53.88,"d":0.02},{"t":54.18,"d":0.01},{"t":54.48,"d":-0.01},{"t":54.78,"d":0.05},{"t":55.08,"d":-0.02},{"t":55.38,"d":0.03},{"t":55.68,"d":-0.04},{"t":55.98,"d":0.02},{"t":56.28,"d":0.04},
      {"t":56.58,"d":0.0},{"t":56.88,"d":-0.05},{"t":57.18,"d":0.02},{"t":57.48,"d":-0.03},{"t":57.78,"d":0.01},{"t":58.08,"d":-0.06},{"t":58.38,"d":-0.01},{"t":58.68,"d":-0.02},{"t":58.98,"d":-0.04},{"t":59.28,"d":0.02},{"t":59.58,"d":-0.05},{"t":59.88,"d":0.0},{"t":60.18,"d":-0.07},{"t":60.48,"d":-0.01},{"t":60.78,"d":0.01},{"t":61.08,"d":-0.04},{"t":61.38,"d":0.0},{"t":61.68,"d":-0.05},{"t":61.98,"d":0.02},{"t":62.28,"d":-0.03},{"t":62.58,"d":0.01},{"t":62.88,"d":-0.06},
      {"t":63.18,"d":0.0},{"t":63.48,"d":0.01},{"t":63.78,"d":-0.03},{"t":64.08,"d":0.03},{"t":64.38,"d":-0.02},{"t":64.68,"d":0.02},{"t":64.98,"d":-0.04},{"t":65.28,"d":-0.01},{"t":65.58,"d":0.01},{"t":65.88,"d":-0.03},
      {"t":66.18,"d":-0.03},{"t":66.48,"d":-0.08},{"t":66.78,"d":-0.01},{"t":67.08,"d":-0.06},{"t":67.38,"d":-0.02},{"t":67.68,"d":-0.09},{"t":67.98,"d":-0.04},{"t":68.28,"d":-0.05},{"t":68.58,"d":-0.07},{"t":68.88,"d":-0.01},{"t":69.18,"d":-0.08},{"t":69.48,"d":-0.03},{"t":69.78,"d":-0.1},{"t":70.08,"d":-0.04},{"t":70.38,"d":-0.02},
      {"t":70.68,"d":-0.04},{"t":70.98,"d":-0.09},{"t":71.28,"d":-0.02},{"t":71.58,"d":-0.07},{"t":71.88,"d":-0.03},{"t":72.18,"d":-0.1},{"t":72.48,"d":-0.05},{"t":72.78,"d":-0.06},{"t":73.08,"d":-0.08},{"t":73.38,"d":-0.02},{"t":73.68,"d":-0.09},{"t":73.98,"d":-0.04},{"t":74.28,"d":-0.11},{"t":74.58,"d":-0.05},{"t":74.88,"d":-0.03},{"t":75.18,"d":-0.08},{"t":75.48,"d":-0.04},{"t":75.78,"d":-0.09},{"t":76.08,"d":-0.02},{"t":76.38,"d":-0.07},{"t":76.68,"d":-0.03},
      {"t":76.98,"d":-0.07},{"t":77.28,"d":-0.04},{"t":77.58,"d":-0.08},{"t":77.88,"d":-0.05},{"t":78.18,"d":-0.04},{"t":78.48,"d":-0.06},{"t":78.78,"d":-0.03},{"t":79.08,"d":-0.02},{"t":79.38,"d":-0.01},{"t":79.68,"d":0.02},{"t":79.98,"d":-0.03},{"t":80.28,"d":-0.07}
    ]
  },
  "vconcat": [
    {
      "width": 465,
      "height": 317,
      "layer": [
        {
          "data": {"name": "temp"},
          "mark": {"type": "circle", "size": 65, "opacity": 1},
          "encoding": {
            "x": {"field": "t", "type": "quantitative", "title": null,
              "scale": {"domain": [0, 86.8], "nice": false, "zero": false},
              "axis": {"values": [0,6,12,18,24,30,36,42,48,54,60,66,72,78,84], "labels": false, "title": null,
                "tickSize": {"condition": {"test": "datum.value % 12 === 0", "value": -8}, "value": -4}}},
            "y": {"field": "tc", "type": "quantitative", "title": "Temperature (°C)",
              "scale": {"domain": [24.21, 30], "nice": false, "zero": false},
              "axis": {"values": [25,26,27,28,29,30], "labelExpr": "datum.value % 2 === 0 ? datum.label : ''",
                "tickSize": {"condition": {"test": "datum.value % 2 === 0", "value": 9}, "value": 5.5},
                "labelPadding": 1, "titlePadding": 51, "titleY": 151, "labelFont": "Liberation Serif", "titleFont": "Liberation Serif"}},
            "color": {"datum": "Thermocouple", "type": "nominal",
              "scale": {"domain": ["Thermocouple", "MOF2"], "range": ["#000000", "#00FFFF"]},
              "legend": {"title": null, "orient": "none", "legendX": 236, "legendY": 240, "labelFontSize": 28,
                "labelFont": "Liberation Serif", "labelColor": "black", "labelLimit": 400, "symbolType": "circle", "symbolSize": 45,
                "labelOffset": 28, "rowPadding": 4, "padding": 0, "symbolStrokeWidth": 0, "symbolOpacity": 1}}
          }
        },
        {
          "data": {"name": "temp"},
          "mark": {"type": "circle", "size": 65, "opacity": 1},
          "encoding": {
            "x": {"field": "t", "type": "quantitative", "title": null},
            "y": {"field": "mof", "type": "quantitative", "title": "Temperature (°C)"},
            "color": {"datum": "MOF2", "type": "nominal"}
          }
        },
        {
          "data": {"name": "dose"},
          "mark": {"type": "rule", "color": "#FF0000", "strokeWidth": 3},
          "encoding": {
            "x": {"field": "t", "type": "quantitative", "title": null},
            "y": {"datum": 30.75, "type": "quantitative"},
            "y2": {"datum": 24.21}
          }
        },
        {
          "data": {"name": "dose"},
          "mark": {"type": "text", "align": "right", "baseline": "alphabetic", "fontSize": 28, "font": "Liberation Serif", "color": "black", "dx": -6},
          "encoding": {
            "x": {"field": "t", "type": "quantitative", "title": null},
            "y": {"datum": 30.26, "type": "quantitative"},
            "text": {"field": "label"}
          }
        }
      ]
    },
    {
      "width": 465,
      "height": 318,
      "layer": [
        {
          "data": {"name": "dt"},
          "mark": {"type": "circle", "size": 44, "opacity": 1, "color": "#00FFFF"},
          "encoding": {
            "x": {"field": "t", "type": "quantitative", "title": "Time (hour)",
              "scale": {"domain": [0, 86.8], "nice": false, "zero": false},
              "axis": {"values": [0,6,12,18,24,30,36,42,48,54,60,66,72,78,84],
                "labelExpr": "datum.value % 12 === 0 ? datum.label : ''",
                "tickSize": {"condition": {"test": "datum.value % 12 === 0", "value": -8}, "value": -4},
                "labelOffset": 11, "labelPadding": 18, "titlePadding": 12, "titleX": 237, "labelFont": "Liberation Serif", "titleFont": "Liberation Serif"}},
            "y": {"field": "d", "type": "quantitative", "title": "ΔT (°C)",
              "scale": {"domain": [-0.62, 0.625], "nice": false, "zero": false},
              "axis": {"values": [-0.5,-0.375,-0.25,-0.125,0,0.125,0.25,0.375,0.5],
                "labelExpr": "abs(datum.value*4 - round(datum.value*4)) < 0.001 ? (datum.value < 0 ? '-' : '') + format(abs(datum.value), '.2f') : ''",
                "tickSize": {"condition": {"test": "abs(datum.value*4 - round(datum.value*4)) < 0.001", "value": 9}, "value": 5.5},
                "labelPadding": 1, "titlePadding": 17, "titleY": 191, "labelFont": "Liberation Serif", "titleFont": "Liberation Serif"}}
          }
        },
        {
          "data": {"name": "dose"},
          "mark": {"type": "rule", "color": "#FF0000", "strokeWidth": 3},
          "encoding": {
            "x": {"field": "t", "type": "quantitative", "title": "Time (hour)"}
          }
        }
      ]
    }
  ]
}
